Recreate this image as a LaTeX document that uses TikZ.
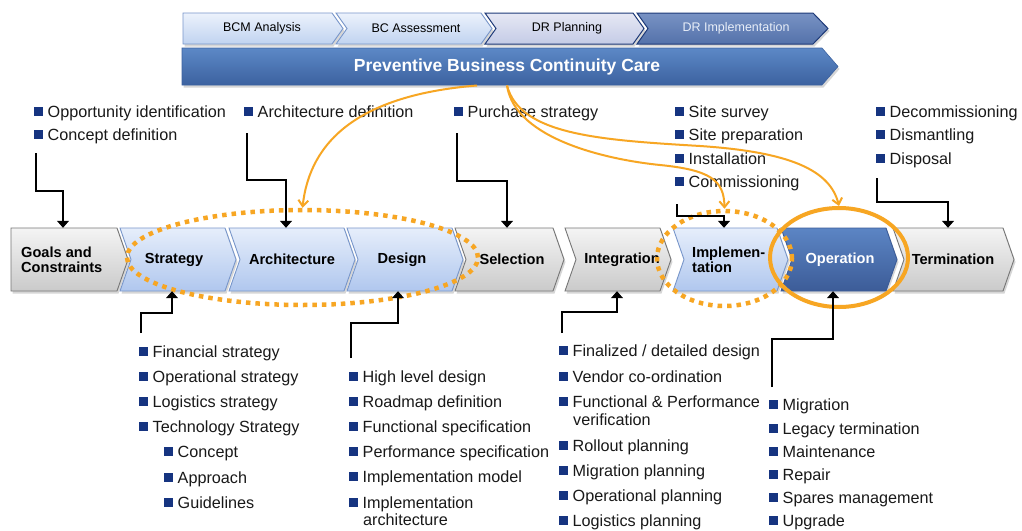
\documentclass[tikz,border=0pt]{standalone}
\usepackage{fontspec}
\setmainfont{Liberation Sans}
\usetikzlibrary{arrows.meta,shapes.geometric,calc}
\definecolor{navy}{RGB}{22,52,128}
\definecolor{orng}{RGB}{247,166,35}
\definecolor{gtop}{RGB}{244,244,244}
\definecolor{gbot}{RGB}{202,202,202}
\definecolor{gbrd}{RGB}{118,118,118}
\definecolor{btop}{RGB}{230,238,251}
\definecolor{bbot}{RGB}{176,199,238}
\definecolor{bbrd}{RGB}{120,150,202}
\definecolor{otop}{RGB}{92,133,196}
\definecolor{obot}{RGB}{60,92,152}
\definecolor{ttop}{RGB}{236,242,252}
\definecolor{tbot}{RGB}{192,211,240}
\definecolor{ptop}{RGB}{230,232,244}
\definecolor{pbot}{RGB}{196,203,230}
\definecolor{itop}{RGB}{120,146,196}
\definecolor{ibot}{RGB}{84,114,170}
\definecolor{dnavy}{RGB}{30,58,120}
\definecolor{bntop}{RGB}{92,136,198}
\definecolor{bnbot}{RGB}{60,98,160}
\newcommand\blt{\textcolor{navy}{\rule[1.6pt]{8.5pt}{8.5pt}}\hspace{5pt}}
\newcommand\itm[4]{\node[itm] (#1) at (#2,#3+5.5) {\blt #4};}
\newcommand\cont[4]{\node[itm] (#1) at (#2,#3+5.5) {#4};}
\newcommand\chevron[7]{%
 \fill[shad] (#1+1.5,#5+2.5) -- (#2+1.5,#5+2.5) -- (#2+#4+1.5,{(#5+#6)/2+2.5}) -- (#2+1.5,#6+2.5) -- (#1+1.5,#6+2.5) -- (#1+#3+1.5,{(#5+#6)/2+2.5}) -- cycle;
 \path[#7] (#1,#5) -- (#2,#5) -- (#2+#4,{(#5+#6)/2}) -- (#2,#6) -- (#1,#6) -- (#1+#3,{(#5+#6)/2}) -- cycle;
}
\begin{document}
\begin{tikzpicture}[x=1pt,y=-1pt,
 itm/.style={anchor=base west,inner sep=0pt,font=\fontsize{16.2}{19}\selectfont,text=black!90},
 clab/.style={inner sep=0pt,font=\fontsize{14.6}{15}\selectfont\bfseries,align=left},
 tlab/.style={inner sep=0pt,font=\fontsize{12.5}{14}\selectfont},
 box/.style={inner sep=0pt,minimum height=63pt},
 shad/.style={fill=black,opacity=0.16},
 graych/.style={top color=gtop,bottom color=gbot,draw=gbrd,line width=0.9pt},
 bluech/.style={top color=btop,bottom color=bbot,draw=bbrd,line width=0.9pt},
 opch/.style={top color=otop,bottom color=obot,draw=obot,line width=0.9pt},
 conn/.style={black,line width=1.2pt,-{Triangle[length=7pt,width=12pt]}},
 oarr/.style={orng,line width=2pt,-{Straight Barb[length=6pt,width=10pt]}},
 dotell/.style={draw=orng,line width=4.5pt,dash pattern=on 4.5pt off 5pt,ellipse,inner sep=0pt},
 solell/.style={draw=orng,line width=4pt,ellipse,inner sep=0pt}]
\useasboundingbox (0,0) rectangle (1022,530);
\fill[white] (0,0) rectangle (1022,530);

% top row
\chevron{183}{332}{0}{11}{13}{44}{top color=ttop,bottom color=tbot,draw=bbrd,line width=0.9pt}
\chevron{336}{481}{11}{11}{13}{44}{top color=ttop,bottom color=tbot,draw=bbrd,line width=0.9pt}
\chevron{485}{633}{11}{11}{13}{44}{top color=ptop,bottom color=pbot,draw=dnavy,line width=1pt}
\chevron{637}{813}{11}{15}{13}{44}{top color=itop,bottom color=ibot,draw=dnavy,line width=1pt}
\node[inner sep=0pt,minimum width=149pt,minimum height=31pt] (bcm) at (257.5,28.5) {};
\node[inner sep=0pt,minimum width=145pt,minimum height=31pt] (bca) at (408.5,28.5) {};
\node[inner sep=0pt,minimum width=148pt,minimum height=31pt] (drp) at (559,28.5) {};
\node[inner sep=0pt,minimum width=176pt,minimum height=31pt] (dri) at (725,28.5) {};
\node[tlab] (bcm-t) at (262,28.5) {BCM Analysis};
\node[tlab] (bca-t) at (416,28.5) {BC Assessment};
\node[tlab] (drp-t) at (567,28.5) {DR Planning};
\node[tlab,text={rgb,255:red,232;green,238;blue,248}] (dri-t) at (736,28.5) {DR Implementation};

% banner
\chevron{182}{822}{0}{16}{48}{85}{top color=bntop,bottom color=bnbot,draw=bnbot,line width=0.6pt}
\node[inner sep=0pt,minimum width=640pt,minimum height=37pt] (banner) at (502,66.5) {};
\node[inner sep=0pt,text=white,font=\fontsize{17.5}{20}\selectfont\bfseries] (banner-t) at (507,66.5) {Preventive Business Continuity Care};

% main row
\chevron{11}{117}{0}{11}{228}{291}{graych}
\chevron{120}{225}{11}{11}{228}{291}{bluech}
\chevron{229}{344}{11}{11}{228}{291}{bluech}
\chevron{347}{452}{11}{11}{228}{291}{bluech}
\chevron{455}{553}{11}{11}{228}{291}{graych}
\chevron{565}{660}{11}{11}{228}{291}{graych}
\chevron{673}{777}{11}{11}{228}{291}{bluech}
\chevron{781}{886}{11}{11}{228}{291}{opch}
\chevron{893}{1003}{11}{11}{228}{291}{graych}
\node[box,minimum width=106pt] (goals) at (64,259.5) {};
\node[box,minimum width=105pt] (strategy) at (172.5,259.5) {};
\node[box,minimum width=115pt] (architecture) at (286.5,259.5) {};
\node[box,minimum width=105pt] (design) at (399.5,259.5) {};
\node[box,minimum width=98pt] (selection) at (504,259.5) {};
\node[box,minimum width=95pt] (integration) at (612.5,259.5) {};
\node[box,minimum width=104pt] (implementation) at (725,259.5) {};
\node[box,minimum width=105pt] (operation) at (833.5,259.5) {};
\node[box,minimum width=110pt] (termination) at (948,259.5) {};
\node[clab,anchor=west] (goals-t) at (21,259.5) {Goals and\\Constraints};
\node[clab] (strategy-t) at (174,259.5) {Strategy};
\node[clab] (architecture-t) at (292,259.5) {Architecture};
\node[clab] (design-t) at (402,259.5) {Design};
\node[clab] (selection-t) at (512,259.5) {Selection};
\node[clab] (integration-t) at (622,259.5) {Integration};
\node[clab,anchor=west] (implementation-t) at (692,259.5) {Implemen-\\tation};
\node[clab,text=white] (operation-t) at (840,259.5) {Operation};
\node[clab] (termination-t) at (953,259.5) {Termination};

% highlight ellipses
\node[dotell,minimum width=351pt,minimum height=95pt] (ell1) at (302.5,257.5) {};
\node[dotell,minimum width=135pt,minimum height=95pt] (ell2) at (724.5,258.5) {};
\node[solell,minimum width=138pt,minimum height=99pt] (ell3) at (839,257.5) {};

% top lists
\itm{opp}{34}{112}{Opportunity identification}
\itm{cdef}{34}{135}{Concept definition}
\itm{adef}{244}{112}{Architecture definition}
\itm{pstr}{454}{112}{Purchase strategy}
\itm{ssur}{675}{112}{Site survey}
\itm{sprep}{675}{135}{Site preparation}
\itm{inst}{675}{159}{Installation}
\itm{comm}{675}{182}{Commissioning}
\itm{decom}{876}{112}{Decommissioning}
\itm{dism}{876}{135}{Dismantling}
\itm{disp}{876}{159}{Disposal}

% bottom lists
\itm{fin}{139}{352}{Financial strategy}
\itm{ops}{139}{377}{Operational strategy}
\itm{logs}{139}{402}{Logistics strategy}
\itm{techs}{139}{427}{Technology Strategy}
\itm{conc}{164}{452}{Concept}
\itm{appr}{164}{478}{Approach}
\itm{guid}{164}{503}{Guidelines}

\itm{hld}{349}{377}{High level design}
\itm{road}{349}{402}{Roadmap definition}
\itm{funcs}{349}{427}{Functional specification}
\itm{perfs}{349}{452}{Performance specification}
\itm{impm}{349}{477}{Implementation model}
\itm{impa}{349}{503}{Implementation}
\cont{impa2}{363}{520}{architecture}

\itm{fdd}{559}{351}{Finalized / detailed design}
\itm{vend}{559}{377}{Vendor co-ordination}
\itm{fpv}{559}{402}{Functional \& Performance}
\cont{fpv2}{573}{420}{verification}
\itm{rollp}{559}{446}{Rollout planning}
\itm{migp}{559}{471}{Migration planning}
\itm{opp2}{559}{496}{Operational planning}
\itm{logp}{559}{521}{Logistics planning}

\itm{mig}{769}{405}{Migration}
\itm{leg}{769}{429}{Legacy termination}
\itm{maint}{769}{452}{Maintenance}
\itm{rep}{769}{475}{Repair}
\itm{spar}{769}{498}{Spares management}
\itm{upg}{769}{521}{Upgrade}

% black connectors
\coordinate (sG) at (36,153);  \coordinate (jG) at (63,191);
\coordinate (sA) at (247,133); \coordinate (jA) at (286,180);
\coordinate (sP) at (457,133); \coordinate (jP) at (507,181);
\coordinate (sI) at (677,204); \coordinate (jI) at (724,216);
\coordinate (sT) at (877,178); \coordinate (jT) at (948,202);
\coordinate (sS) at (141,333); \coordinate (jS) at (172,313);
\coordinate (sD) at (351,358); \coordinate (jD) at (398,323);
\coordinate (sN) at (562,333); \coordinate (jN) at (617,312);
\coordinate (sO) at (772,387); \coordinate (jO) at (833,339);
\draw[conn] (sG) |- (jG) -- (jG |- goals.north);
\draw[conn] (sA) |- (jA) -- (jA |- architecture.north);
\draw[conn] (sP) |- (jP) -- (jP |- selection.north);
\draw[conn] (sI) |- (jI) -- (jI |- implementation.north);
\draw[conn] (sT) |- (jT) -- (jT |- termination.north);
\draw[conn] (sS) |- (jS) -- (jS |- strategy.south);
\draw[conn] (sD) |- (jD) -- (jD |- design.south);
\draw[conn] (sN) |- (jN) -- (jN |- integration.south);
\draw[conn] (sO) |- (jO) -- (jO |- operation.south);

% orange curves
\coordinate (cA) at (477,85.5);
\coordinate (cB) at (507,85.5);
\draw[oarr] (cA) .. controls (360,95) and (310,140) .. (ell1.north);
\draw[oarr] (cB) .. controls (515,140) and (610,160) .. (660,165) .. controls (710,170) and (724,180) .. (ell2.north);
\draw[oarr] (cB) .. controls (520,135) and (600,140) .. (700,146) .. controls (790,152) and (830,170) .. (ell3.north);
\end{tikzpicture}
\end{document}
